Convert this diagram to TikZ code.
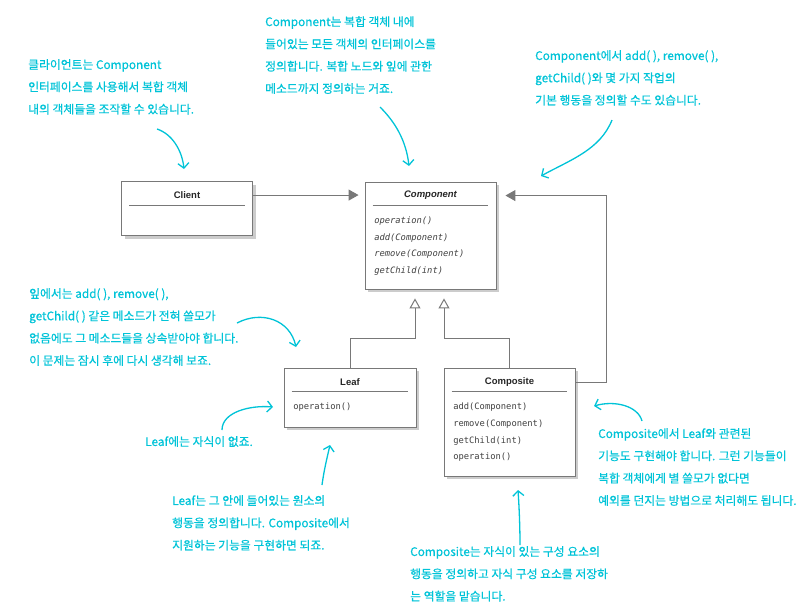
\documentclass[tikz,border=0pt]{standalone}
\usepackage{fontspec}
\setmainfont{Liberation Sans}
\newfontfamily\notefont{Noto Sans CJK KR}[FakeBold=0.5]
\newfontfamily\methodfont{DejaVu Sans Mono}
\usetikzlibrary{arrows.meta,shadows}
\definecolor{notecyan}{RGB}{0,195,215}
\definecolor{linegray}{RGB}{120,120,120}

\begin{document}
\begin{tikzpicture}[y=-1pt, x=1pt,
    classbox/.style={draw=linegray, fill=white, inner sep=0, line width=0.9pt,
      general shadow={fill=black!20, shadow xshift=3pt, shadow yshift=-3pt}},
    classname/.style={font=\bfseries\fontsize{9.5}{11}\selectfont, text=black!85},
    methods/.style={font=\methodfont\fontsize{8.8}{16.6}\selectfont, align=left, anchor=north west, inner sep=0, text=black!75},
    itmethods/.style={methods, font=\methodfont\itshape\fontsize{8.8}{16.6}\selectfont},
    divider/.style={linegray, line width=0.8pt},
    assoc/.style={linegray, line width=1pt, -{Triangle[length=10pt,width=11pt]}, shorten >=6pt},
    inherit/.style={linegray, line width=1pt, -{Triangle[open,length=10pt,width=11pt,fill=white]}, shorten >=9pt},
    note/.style={font=\notefont\fontsize{11.8}{22.3}\selectfont, text=notecyan, align=left, anchor=north west, inner sep=0},
    notearrow/.style={notecyan, line width=1.3pt, -{Straight Barb[length=5pt,width=11pt]}}]
  \useasboundingbox (0,0) rectangle (800,614);

  % class boxes
  \node[classbox, minimum width=131pt, minimum height=54pt] (client) at (187,208.5) {};
  \node[classbox, minimum width=131pt, minimum height=107pt] (component) at (430.5,235.5) {};
  \node[classbox, minimum width=132pt, minimum height=59pt] (leaf) at (350,397.5) {};
  \node[classbox, minimum width=131pt, minimum height=108pt] (composite) at (509.5,422) {};
  \foreach \c in {client,component,leaf,composite}
    \draw[divider] ([xshift=8pt,yshift=-24pt]\c.north west) -- ([xshift=-8pt,yshift=-24pt]\c.north east);

  % names and operations
  \node[classname] (clientname) at ([yshift=-14pt]client.north) {Client};
  \node[classname, font=\bfseries\itshape\fontsize{9.5}{11}\selectfont] (componentname) at ([yshift=-14pt]component.north) {Component};
  \node[classname] (leafname) at ([yshift=-14.5pt]leaf.north) {Leaf};
  \node[classname] (compositename) at ([yshift=-14.5pt]composite.north) {Composite};
  \node[itmethods] (componentops) at ([xshift=9.5pt,yshift=-35pt]component.north west) {operation()\\add(Component)\\remove(Component)\\getChild(int)};
  \node[methods] (leafops) at ([xshift=9.5pt,yshift=-35.5pt]leaf.north west) {operation()};
  \node[methods] (compositeops) at ([xshift=9.5pt,yshift=-35.5pt]composite.north west) {add(Component)\\remove(Component)\\getChild(int)\\operation()};

  % relations
  \draw[assoc] (client.east |- clientname) -- (component.west |- clientname);
  \draw[assoc, shorten >=9pt] (composite.east |- compositename) -- ++(31,0) |- (component.east |- componentname);
  \draw[inherit] (leaf.north) -- ++(0,-29) -| ([xshift=-15.5pt]component.south);
  \draw[inherit] (composite.north) -- ++(0,-29) -| ([xshift=13.5pt]component.south);

  % notes
  \node[note] (clientnote) at (28,59) {클라이언트는 Component\\인터페이스를 사용해서 복합 객체\\내의 객체들을 조작할 수 있습니다.};
  \node[note] (componentnote) at (265,16) {Component는 복합 객체 내에\\들어있는 모든 객체의 인터페이스를\\정의합니다. 복합 노드와 잎에 관한\\메소드까지 정의하는 거죠.};
  \node[note] (defaultnote) at (535,50) {Component에서 add( ), remove( ),\\getChild( )와 몇 가지 작업의\\기본 행동을 정의할 수도 있습니다.};
  \node[note] (leafnote) at (29,288) {잎에서는 add( ), remove( ),\\getChild( ) 같은 메소드가 전혀 쓸모가\\없음에도 그 메소드들을 상속받아야 합니다.\\이 문제는 잠시 후에 다시 생각해 보죠.};
  \node[note] (childnote) at (145,436) {Leaf에는 자식이 없죠.};
  \node[note] (leafdesc) at (172,495) {Leaf는 그 안에 들어있는 원소의\\행동을 정의합니다. Composite에서\\지원하는 기능을 구현하면 되죠.};
  \node[note] (compositenote) at (598,428) {Composite에서 Leaf와 관련된\\기능도 구현해야 합니다. 그런 기능들이\\복합 객체에게 별 쓸모가 없다면\\예외를 던지는 방법으로 처리해도 됩니다.};
  \node[note] (compositedesc) at (410,546) {Composite는 자식이 있는 구성 요소의\\행동을 정의하고 자식 구성 요소를 저장하\\는 역할을 맡습니다.};

  % note arrows
  \coordinate (clienttail) at (157,129);
  \coordinate (clienthead) at (184,169);
  \coordinate (componenttail) at (380,107);
  \coordinate (componenthead) at (409,166);
  \coordinate (defaulttail) at (612,120);
  \coordinate (defaulthead) at (541,176);
  \coordinate (leaftail) at (237,323);
  \coordinate (leafhead) at (296,347);
  \coordinate (childtail) at (222,430);
  \coordinate (childhead) at (273,407);
  \coordinate (leafdesctail) at (322,485);
  \coordinate (leafdeschead) at (330,445);
  \coordinate (compositetail) at (642,421);
  \coordinate (compositehead) at (594,406);
  \coordinate (compositedesctail) at (520,545);
  \coordinate (compositedeschead) at (518,490);
  \draw[notearrow] (clienttail) .. controls (172,134) and (182,150) .. (clienthead);
  \draw[notearrow] (componenttail) .. controls (395,122) and (406,140) .. (componenthead);
  \draw[notearrow] (defaulttail) .. controls (600,150) and (570,160) .. (defaulthead);
  \draw[notearrow] (leaftail) .. controls (262,310) and (290,320) .. (leafhead);
  \draw[notearrow] (childtail) .. controls (222,412) and (250,405) .. (childhead);
  \draw[notearrow] (leafdesctail) .. controls (324,470) and (327,458) .. (leafdeschead);
  \draw[notearrow] (compositetail) .. controls (638,406) and (615,400) .. (compositehead);
  \draw[notearrow] (compositedesctail) .. controls (520,525) and (519,505) .. (compositedeschead);
\end{tikzpicture}
\end{document}
